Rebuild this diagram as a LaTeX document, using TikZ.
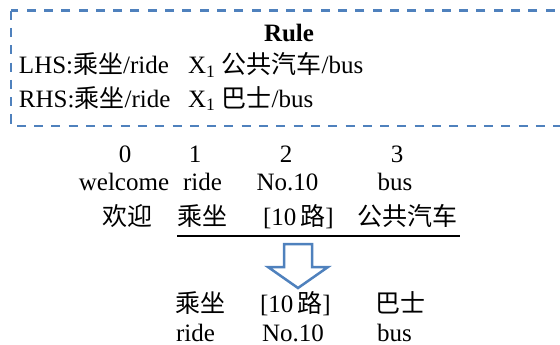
\documentclass[tikz,border=0pt]{standalone}
\usepackage{fontspec}
\setmainfont{Liberation Serif}
\newfontfamily\cjk{Noto Sans CJK SC}
\definecolor{rb}{RGB}{79,129,189}
\tikzset{
  t/.style={inner sep=0pt,outer sep=0pt,font=\fontsize{25}{30}\selectfont},
  bw/.style={t,anchor=base west},
  bc/.style={t,anchor=base},
  rulebox/.style={rb,line width=2.5pt,dash pattern=on 9pt off 8.3pt},
  blockarrow/.style={rb,line width=2.5pt,fill=white,line join=miter}
}
\begin{document}
\begin{tikzpicture}[x=1pt,y=-1pt]
\useasboundingbox (0,0) rectangle (560,345);
\clip (0,0) rectangle (560,345);
\draw[rulebox] (11,10.7) rectangle (600,126);
% rule box text
\node[bc,font=\fontsize{25}{30}\selectfont\bfseries] (rule) at (289,42) {Rule};
\node[bw] (lhsA) at (19,74) {LHS:{\cjk 乘坐}/ride};
\node[bw] (lhsB) at (188,74) {X\textsubscript{1} {\cjk 公共汽车}/bus};
\node[bw] (rhsA) at (19,107) {RHS:{\cjk 乘坐}/ride};
\node[bw] (rhsB) at (188,107) {X\textsubscript{1} {\cjk 巴士}/bus};
% indices
\node[bc] (i0) at (125,162) {0};
\node[bc] (i1) at (195,162) {1};
\node[bc] (i2) at (286,162) {2};
\node[bc] (i3) at (397,162) {3};
% english glosses
\node[bc] (w0) at (124,190) {welcome};
\node[bc] (w1) at (202.5,190) {ride};
\node[bc] (w2) at (287.5,190) {No.10};
\node[bc] (w3) at (395,190) {bus};
% chinese source
\node[bw] (c0) at (102,225) {\cjk 欢迎};
\node[bw] (c1) at (177,225) {\cjk 乘坐};
\node[bw] (c2) at (263,225) {[10\,{\cjk 路}]};
\node[bw] (c3) at (357,225) {\cjk 公共汽车};
\coordinate (ulA) at (177,236);
\coordinate (ulB) at (459.5,236);
\draw[line width=1.6pt] (ulA) -- (ulB);
% hollow arrow
\draw[blockarrow] (284,244) -- (312,244) -- (312,267) -- (328,267) -- (298,288) -- (268,267) -- (284,267) -- cycle;
% target
\node[bw] (d1) at (175,312) {\cjk 乘坐};
\node[bw] (d2) at (260,312) {[10\,{\cjk 路}]};
\node[bw] (d3) at (375,312) {\cjk 巴士};
\node[bw] (e1) at (176,341) {ride};
\node[bw] (e2) at (262,341) {No.10};
\node[bw] (e3) at (377,341) {bus};
\end{tikzpicture}
\end{document}
